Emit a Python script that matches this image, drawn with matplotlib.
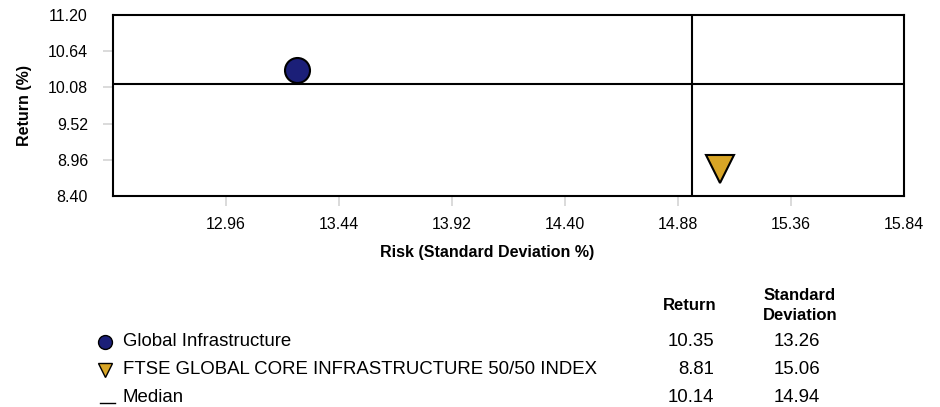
import numpy as np
import matplotlib
matplotlib.use("Agg")
import matplotlib.pyplot as plt

plt.rcParams["font.family"] = ["Liberation Sans", "DejaVu Sans"]

# data
names = ["Global Infrastructure", "FTSE GLOBAL CORE INFRASTRUCTURE 50/50 INDEX"]
returns = [10.35, 8.81]
std_devs = [13.26, 15.06]
median_return = 10.14
median_std = 14.94

x_ticks = [12.48, 12.96, 13.44, 13.92, 14.40, 14.88, 15.36, 15.84]
y_ticks = [8.40, 8.96, 9.52, 10.08, 10.64, 11.20]

# styles
markers = ["o", "v"]
colors = ["#1b1f78", "#d8a526"]
sizes = [18, 20]

W, H = 940, 407
fig = plt.figure(figsize=(W / 100, H / 100), dpi=100)
ax = fig.add_axes([113 / W, 1 - 196 / H, 791 / W, 181 / H])

ax.set_xlim(x_ticks[0], x_ticks[-1])
ax.set_ylim(y_ticks[0], y_ticks[-1])

# median cross lines
ax.axvline(median_std, color="black", lw=1.5, zorder=2)
ax.axhline(median_return, color="black", lw=1.5, zorder=2)

for x, y, m, c, s in zip(std_devs, returns, markers, colors, sizes):
    ax.plot(x, y, marker=m, color=c, markersize=s, markeredgecolor="black",
            markeredgewidth=1.5, linestyle="none", zorder=3, clip_on=False)

# labels on every tick (except the first x one), gray tick marks only inside the range
ax.xaxis.remove_overlapping_locs = False
ax.yaxis.remove_overlapping_locs = False
ax.set_xticks(x_ticks[1:])
ax.set_xticklabels([f"{v:.2f}" for v in x_ticks[1:]])
ax.set_yticks(y_ticks)
ax.set_yticklabels([f"{v:.2f}" for v in y_ticks])
ax.set_xticks(x_ticks[1:-1], minor=True)
ax.set_yticks(y_ticks[1:-1], minor=True)
ax.tick_params(which="major", length=0, labelsize=11.5, colors="black")
ax.tick_params(axis="x", which="major", pad=15)
ax.tick_params(axis="y", which="major", pad=18)
ax.tick_params(which="minor", length=7, width=1.2, color="#d4d4d4", direction="out")

for sp in ax.spines.values():
    sp.set_linewidth(1.5)
    sp.set_color("black")
    sp.set_zorder(4)

fig.text(487 / W, 1 - 253 / H, "Risk (Standard Deviation %)", ha="center", va="center",
         fontsize=11.5, fontweight="bold")
fig.text(25 / W, 1 - 105 / H, "Return (%)", ha="center", va="center", rotation=90,
         fontsize=11.5, fontweight="bold")

# legend / table below the chart, in pixel coordinates
leg = fig.add_axes([0, 0, 1, 1])
leg.set_xlim(0, W)
leg.set_ylim(H, 0)
leg.axis("off")

leg.text(690, 305, "Return", ha="center", va="center", fontsize=12, fontweight="bold")
leg.text(800, 295, "Standard", ha="center", va="center", fontsize=12, fontweight="bold")
leg.text(800, 315, "Deviation", ha="center", va="center", fontsize=12, fontweight="bold")

row_y = [342, 370, 397]
fs = 13.4
for i, (name, r, sd) in enumerate(zip(names, returns, std_devs)):
    leg.plot(105, row_y[i], marker=markers[i], color=colors[i], markersize=10,
             markeredgecolor="black", markeredgewidth=1, linestyle="none")
    leg.text(123, row_y[i], name, ha="left", va="center", fontsize=fs)
    leg.text(714, row_y[i], f"{r:.2f}", ha="right", va="center", fontsize=fs)
    leg.text(797, row_y[i], f"{sd:.2f}", ha="center", va="center", fontsize=fs)

leg.plot([100, 115], [403, 403], color="black", lw=1)
leg.text(123, row_y[2], "Median", ha="left", va="center", fontsize=fs)
leg.text(714, row_y[2], f"{median_return:.2f}", ha="right", va="center", fontsize=fs)
leg.text(797, row_y[2], f"{median_std:.2f}", ha="center", va="center", fontsize=fs)

fig.savefig("out.png", dpi=100)
